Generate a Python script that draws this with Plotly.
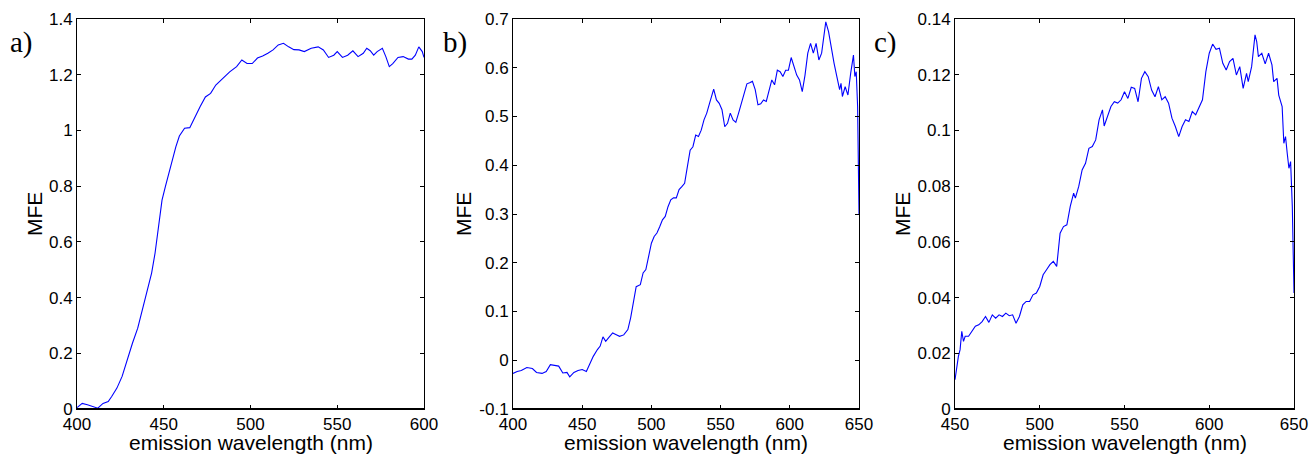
import plotly.graph_objects as go

# ---------------- data ----------------
wl_a = [400, 403, 406, 410, 412, 415, 418, 420, 423, 426, 429, 432, 435, 437, 440, 443, 445, 447, 449, 451,
        454, 457, 459, 462, 465, 468, 471, 474, 477, 480, 484, 488, 492, 495, 498, 501, 504, 507, 510, 513,
        516, 519, 522, 525, 528, 531, 535, 539, 542, 545, 548, 550, 553, 556, 559, 562, 565, 567, 569, 571,
        573, 576, 578, 580, 582, 585, 588, 591, 593, 595, 597, 599, 600]
mfe_a = [0.005, 0.02, 0.015, 0.007, 0.003, 0.02, 0.027, 0.045, 0.075, 0.117, 0.18, 0.237, 0.29, 0.338, 0.416,
         0.488, 0.56, 0.655, 0.75, 0.80, 0.876, 0.942, 0.98, 1.008, 1.01, 1.05, 1.086, 1.12, 1.133, 1.163,
         1.187, 1.21, 1.229, 1.253, 1.24, 1.24, 1.26, 1.267, 1.277, 1.289, 1.307, 1.313, 1.30, 1.29, 1.289,
         1.283, 1.295, 1.30, 1.289, 1.262, 1.27, 1.283, 1.262, 1.27, 1.286, 1.265, 1.277, 1.295, 1.286, 1.27,
         1.283, 1.295, 1.265, 1.229, 1.24, 1.262, 1.265, 1.256, 1.256, 1.27, 1.30, 1.283, 1.262]

wl_b = [400, 403, 406, 410, 414, 417, 421, 424, 427, 430, 433, 436, 439, 441, 444, 447, 450, 453, 455, 458,
        461, 463, 465, 467, 469, 472, 475, 477, 480, 483, 485, 487, 489, 492, 494, 496, 498, 500, 502, 504,
        506, 508, 510, 512, 514, 516, 518, 520, 522, 524, 526, 528, 530, 532, 534, 536, 538, 540, 542, 545,
        547, 549, 551, 553, 555, 557, 559, 561, 563, 565, 567, 569, 571, 573, 575, 577, 579, 581, 583, 585,
        587, 589, 591, 593, 595, 597, 599, 601, 603, 605, 607, 609, 611, 613, 615, 617, 619, 621, 623, 625,
        626, 628, 630, 632, 634, 636, 637, 638, 640, 642, 644, 646, 647, 648, 649, 650]
mfe_b = [-0.027, -0.023, -0.021, -0.015, -0.017, -0.025, -0.027, -0.023, -0.009, -0.011, -0.012, -0.026,
         -0.025, -0.034, -0.025, -0.021, -0.019, -0.023, -0.009, 0.008, 0.022, 0.029, 0.048, 0.039, 0.046,
         0.056, 0.052, 0.049, 0.052, 0.063, 0.087, 0.124, 0.151, 0.155, 0.179, 0.186, 0.213, 0.24, 0.254,
         0.261, 0.274, 0.288, 0.295, 0.315, 0.329, 0.333, 0.333, 0.35, 0.356, 0.363, 0.397, 0.431, 0.438,
         0.462, 0.459, 0.472, 0.493, 0.507, 0.527, 0.556, 0.534, 0.527, 0.514, 0.479, 0.486, 0.507, 0.493,
         0.488, 0.507, 0.527, 0.548, 0.567, 0.569, 0.572, 0.555, 0.524, 0.526, 0.534, 0.531, 0.555, 0.575,
         0.565, 0.595, 0.592, 0.582, 0.595, 0.595, 0.621, 0.602, 0.585, 0.575, 0.551, 0.585, 0.63, 0.65,
         0.63, 0.65, 0.616, 0.63, 0.677, 0.694, 0.674, 0.64, 0.609, 0.582, 0.555, 0.568, 0.541, 0.561,
         0.544, 0.589, 0.626, 0.582, 0.592, 0.52, 0.30]

wl_c = [450, 451, 452, 453, 454, 455, 456, 458, 460, 462, 464, 466, 468, 470, 472, 474, 476, 478, 480, 482,
        484, 486, 488, 490, 492, 494, 496, 498, 500, 502, 504, 506, 508, 510, 512, 514, 516, 518, 520, 521,
        523, 525, 527, 529, 531, 533, 535, 537, 538, 540, 542, 544, 546, 548, 550, 552, 554, 556, 558, 560,
        562, 564, 566, 568, 570, 572, 574, 576, 578, 580, 582, 584, 586, 588, 590, 592, 594, 596, 598, 600,
        602, 604, 606, 608, 610, 612, 614, 616, 618, 620, 622, 623, 625, 627, 628, 629, 631, 633, 635, 637,
        638, 640, 641, 643, 644, 645, 646, 647, 648, 649, 650]
mfe_c = [0.0105, 0.0153, 0.0189, 0.0213, 0.0279, 0.0243, 0.0261, 0.0261, 0.0279, 0.0297, 0.0302, 0.0314,
         0.0332, 0.0311, 0.0338, 0.0326, 0.0338, 0.0332, 0.0344, 0.0335, 0.0338, 0.0308, 0.0332, 0.0374,
         0.0386, 0.0386, 0.041, 0.0416, 0.044, 0.0482, 0.05, 0.0518, 0.053, 0.0512, 0.0631, 0.0655, 0.0661,
         0.0727, 0.0775, 0.0757, 0.0799, 0.0858, 0.0882, 0.0936, 0.0942, 0.0966, 0.1038, 0.1074, 0.1016,
         0.105, 0.1086, 0.1103, 0.1098, 0.111, 0.1139, 0.1115, 0.1155, 0.1151, 0.1103, 0.1187, 0.1211,
         0.1193, 0.1145, 0.1121, 0.1157, 0.111, 0.1121, 0.1098, 0.1044, 0.1014, 0.0978, 0.1014, 0.1038,
         0.1032, 0.1068, 0.1056, 0.1086, 0.111, 0.1211, 0.1277, 0.131, 0.1291, 0.1295, 0.1241, 0.1217,
         0.1247, 0.1259, 0.1199, 0.1229, 0.1151, 0.1205, 0.1175, 0.1229, 0.1343, 0.1319, 0.1265, 0.1277,
         0.1239, 0.1277, 0.1235, 0.1175, 0.1187, 0.1127, 0.1086, 0.0954, 0.0978, 0.0918, 0.0864, 0.0888,
         0.0727, 0.0416]

ytick_a = [0, 0.2, 0.4, 0.6, 0.8, 1.0, 1.2, 1.4]
ytext_a = ["0", "0.2", "0.4", "0.6", "0.8", "1", "1.2", "1.4"]
ytick_b = [-0.1, 0, 0.1, 0.2, 0.3, 0.4, 0.5, 0.6, 0.7]
ytext_b = ["-0.1", "0", "0.1", "0.2", "0.3", "0.4", "0.5", "0.6", "0.7"]
ytick_c = [0, 0.02, 0.04, 0.06, 0.08, 0.10, 0.12, 0.14]
ytext_c = ["0", "0.02", "0.04", "0.06", "0.08", "0.1", "0.12", "0.14"]
xtick_a = [400, 450, 500, 550, 600]
xtick_b = [400, 450, 500, 550, 600, 650]
xtick_c = [450, 500, 550, 600, 650]
panel_labels = ["a)", "b)", "c)"]
x_title = "emission wavelength (nm)"
y_title = "MFE"

# ---------------- layout ----------------
W, H = 1310, 455
px = lambda p: p / W
py = lambda p: 1 - p / H

panels = [
    dict(x=wl_a, y=mfe_a, xr=[400, 600], yr=[0, 1.4], xt=xtick_a, yt=ytick_a, ytt=ytext_a, dom=(77, 424)),
    dict(x=wl_b, y=mfe_b, xr=[400, 650], yr=[-0.1, 0.7], xt=xtick_b, yt=ytick_b, ytt=ytext_b, dom=(513, 859)),
    dict(x=wl_c, y=mfe_c, xr=[450, 650], yr=[0, 0.14], xt=xtick_c, yt=ytick_c, ytt=ytext_c, dom=(955, 1294)),
]
ytop, ybot = 19, 409

fig = go.Figure()
tickfont = dict(family="Liberation Sans, Arial", size=17, color="black")
titlefont = dict(family="Liberation Sans, Arial", size=21, color="black")
annotations = []
shapes = []
ylab_offsets = [43, 50, 53]
lab_x = [21, 455, 885]

for i, p in enumerate(panels):
    k = "" if i == 0 else str(i + 1)
    fig.add_trace(go.Scatter(x=p["x"], y=p["y"], mode="lines",
                             line=dict(color="#0000FF", width=1.1),
                             xaxis="x" + k, yaxis="y" + k, showlegend=False))
    axcommon = dict(showline=True, linecolor="black", linewidth=1, mirror="ticks",
                    ticks="inside", ticklen=4, tickwidth=1, tickcolor="black",
                    showgrid=False, zeroline=False, tickfont=tickfont, automargin=False)
    fig.layout["xaxis" + k] = dict(axcommon, domain=[px(p["dom"][0]), px(p["dom"][1])],
                                   range=p["xr"], tickvals=p["xt"], anchor="y" + k)
    fig.layout["yaxis" + k] = dict(axcommon, domain=[py(ybot), py(ytop)],
                                   range=p["yr"], tickvals=p["yt"], ticktext=p["ytt"], anchor="x" + k)
    # thicker bottom frame line
    shapes.append(dict(type="line", xref="x%s domain" % k, yref="y%s domain" % k,
                       x0=0, x1=1, y0=0, y1=0, line=dict(color="black", width=2)))
    cx = (p["dom"][0] + p["dom"][1]) / 2
    annotations.append(dict(text=x_title, x=px(cx), y=py(442), xref="paper", yref="paper",
                            showarrow=False, xanchor="center", yanchor="middle", font=titlefont))
    annotations.append(dict(text=y_title, x=px(p["dom"][0] - ylab_offsets[i]), y=py((ytop + ybot) / 2),
                            xref="paper", yref="paper", showarrow=False, textangle=-90,
                            xanchor="center", yanchor="middle", font=titlefont))
    annotations.append(dict(text=panel_labels[i], x=px(lab_x[i]), y=py(42), xref="paper", yref="paper",
                            showarrow=False, xanchor="center", yanchor="middle",
                            font=dict(family="Liberation Serif, Times New Roman", size=29, color="black")))

fig.update_layout(width=W, height=H, margin=dict(l=0, r=0, t=0, b=0, autoexpand=False),
                  paper_bgcolor="white", plot_bgcolor="white",
                  annotations=annotations, shapes=shapes)

fig.write_html("out.html", config={"displayModeBar": False},
               post_script="document.body.style.margin='0';document.body.style.overflow='hidden';"
                           "document.documentElement.style.overflow='hidden';")
